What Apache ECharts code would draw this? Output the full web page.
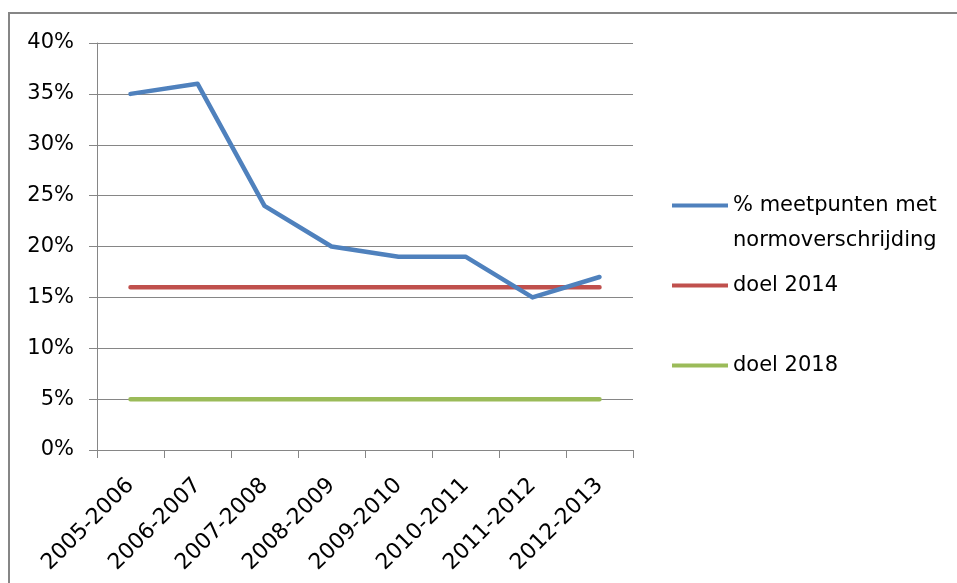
<!DOCTYPE html>
<html>
<head>
<meta charset="utf-8">
<script src="https://cdn.jsdelivr.net/npm/echarts@6/dist/echarts.min.js"></script>
<style>
html,body{margin:0;padding:0;background:#fff;}
#chart{width:957px;height:583px;}
</style>
</head>
<body>
<div id="chart"></div>
<script>
var categories = ['2005-2006','2006-2007','2007-2008','2008-2009','2009-2010','2010-2011','2011-2012','2012-2013'];
var meetpunten = [35, 36, 24, 20, 19, 19, 15, 17];
var doel2014 = [16, 16, 16, 16, 16, 16, 16, 16];
var doel2018 = [5, 5, 5, 5, 5, 5, 5, 5];
var seriesNames = ['% meetpunten met normoverschrijding', 'doel 2014', 'doel 2018'];
var yTicks = {min: 0, max: 40, interval: 5};

var FONT = 'DejaVu Sans';
var chart = echarts.init(document.getElementById('chart'), null, {renderer: 'canvas'});

function legendFor(name, top, formatter) {
  return {
    orient: 'vertical',
    left: 672,
    top: top,
    padding: 0,
    itemWidth: 56,
    itemHeight: 4,
    icon: 'rect',
    data: [name],
    selectedMode: false,
    formatter: formatter,
    textStyle: {fontFamily: FONT, fontSize: 21, color: '#000', lineHeight: 35}
  };
}

chart.setOption({
  animation: false,
  backgroundColor: '#fff',
  graphic: [{
    type: 'rect',
    shape: {x: 9, y: 13, width: 1200, height: 1200},
    style: {fill: 'none', stroke: '#868686', lineWidth: 2},
    silent: true
  }],
  grid: {left: 97, right: 324, top: 43, bottom: 133, containLabel: false},
  legend: [
    legendFor(seriesNames[0], 153, function () { return '\n% meetpunten met\nnormoverschrijding'; }),
    legendFor(seriesNames[1], 268),
    legendFor(seriesNames[2], 348)
  ],
  xAxis: {
    type: 'category',
    data: categories,
    boundaryGap: true,
    axisLine: {lineStyle: {color: '#868686', width: 1}},
    axisTick: {show: true, length: 8, lineStyle: {color: '#868686'}},
    axisLabel: {rotate: 45, margin: 32, fontFamily: FONT, fontSize: 22, color: '#000'}
  },
  yAxis: {
    type: 'value',
    min: yTicks.min,
    max: yTicks.max,
    interval: yTicks.interval,
    axisLine: {show: true, lineStyle: {color: '#868686', width: 1}},
    axisTick: {show: true, length: 8, lineStyle: {color: '#868686'}},
    splitLine: {show: true, lineStyle: {color: '#868686', width: 1}},
    axisLabel: {formatter: '{value}%', margin: 23, fontFamily: FONT, fontSize: 21, color: '#000'}
  },
  series: [
    {name: seriesNames[0], type: 'line', data: meetpunten, showSymbol: false, symbol: 'none',
     itemStyle: {color: '#4F81BD'}, lineStyle: {color: '#4F81BD', width: 4.5, cap: 'round', join: 'round'}, z: 3},
    {name: seriesNames[1], type: 'line', data: doel2014, showSymbol: false, symbol: 'none',
     itemStyle: {color: '#C0504D'}, lineStyle: {color: '#C0504D', width: 4.5, cap: 'round'}, z: 2},
    {name: seriesNames[2], type: 'line', data: doel2018, showSymbol: false, symbol: 'none',
     itemStyle: {color: '#9BBB59'}, lineStyle: {color: '#9BBB59', width: 4.5, cap: 'round'}, z: 2}
  ]
});
</script>
</body>
</html>
